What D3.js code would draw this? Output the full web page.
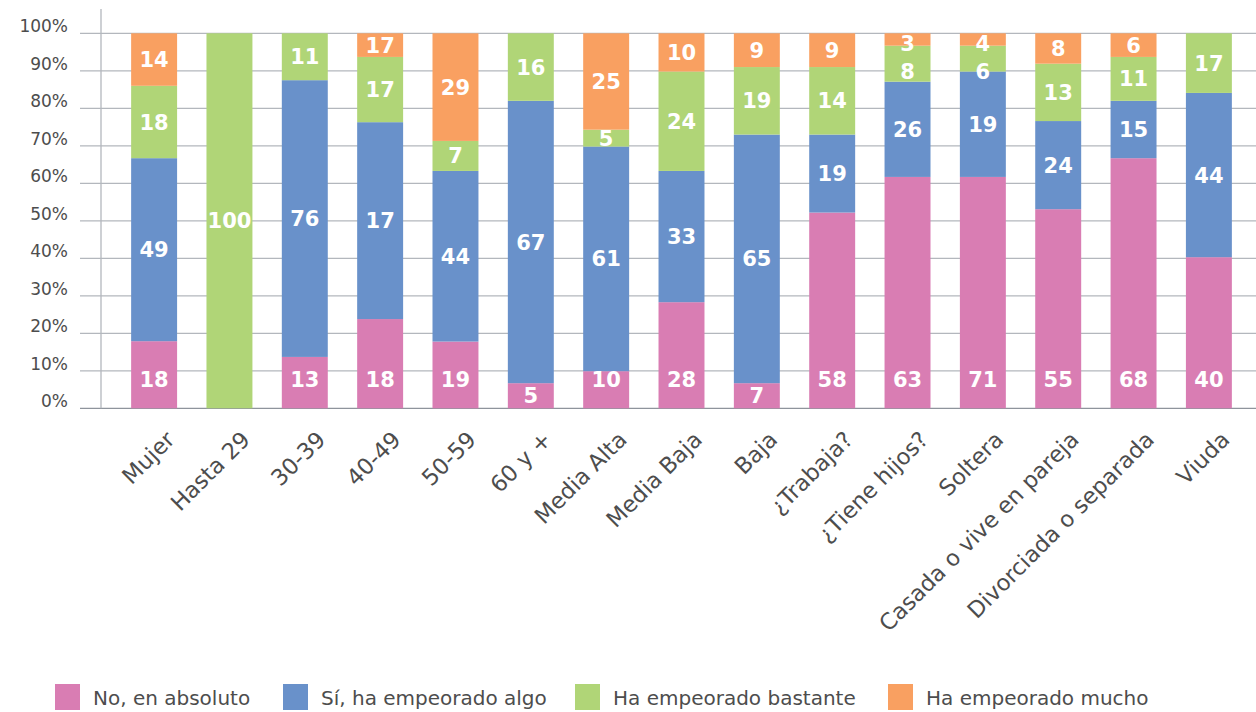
<!DOCTYPE html>
<html>
<head>
<meta charset="utf-8">
<script src="https://cdn.jsdelivr.net/npm/d3@7"></script>
<style>
  body { margin: 0; background: #fff; }
  svg { display: block; }
</style>
</head>
<body>
<svg id="chart" width="1256" height="712"></svg>
<script>
const categories = ["Mujer", "Hasta 29", "30-39", "40-49", "50-59", "60 y +", "Media Alta", "Media Baja", "Baja",
  "¿Trabaja?", "¿Tiene hijos?", "Soltera", "Casada o vive en pareja", "Divorciada o separada", "Viuda"];

const seriesNames = ["No, en absoluto", "Sí, ha empeorado algo", "Ha empeorado bastante", "Ha empeorado mucho"];
const seriesColors = ["#d97db3", "#6991ca", "#b0d577", "#f9a061"];

// bar heights (% of bar) as drawn
const noAbsoluto = [17.9, 0, 13.7, 23.8, 17.8, 6.7, 9.9, 28.3, 6.7, 52.2, 61.7, 61.7, 53.1, 66.7, 40.3];
const empeoradoAlgo = [48.8, 0, 73.8, 52.5, 45.5, 75.3, 59.9, 35.0, 66.3, 20.8, 25.4, 28.1, 23.5, 15.3, 43.8];
const empeoradoBastante = [19.3, 100, 12.5, 17.4, 8.0, 18.0, 4.5, 26.5, 18.0, 18.0, 9.6, 6.9, 15.3, 11.7, 15.9];
const empeoradoMucho = [14.0, 0, 0, 6.3, 28.7, 0, 25.7, 10.2, 9.0, 9.0, 3.3, 3.3, 8.1, 6.3, 0];

// printed value labels
const noAbsolutoLabels = [18, null, 13, 18, 19, 5, 10, 28, 7, 58, 63, 71, 55, 68, 40];
const empeoradoAlgoLabels = [49, null, 76, 17, 44, 67, 61, 33, 65, 19, 26, 19, 24, 15, 44];
const empeoradoBastanteLabels = [18, 100, 11, 17, 7, 16, 5, 24, 19, 14, 8, 6, 13, 11, 17];
const empeoradoMuchoLabels = [14, null, null, 17, 29, null, 25, 10, 9, 9, 3, 4, 8, 6, null];

const yTicks = [0, 10, 20, 30, 40, 50, 60, 70, 80, 90, 100];

const values = [noAbsoluto, empeoradoAlgo, empeoradoBastante, empeoradoMucho];
const labels = [noAbsolutoLabels, empeoradoAlgoLabels, empeoradoBastanteLabels, empeoradoMuchoLabels];

const rows = categories.map((c, i) => {
  let row = { cat: c };
  seriesNames.forEach((s, k) => { row[s] = values[k][i]; });
  return row;
});

const svg = d3.select("#chart");
const textColor = "#4d4d4d";

let xScale = d3.scaleBand()
  .domain(categories)
  .range([101, 1262])
  .paddingInner(0.39)
  .paddingOuter(0.4);

let yScale = d3.scaleLinear().domain([0, 100]).range([408.3, 33.3]);

// grid
svg.append("g")
  .selectAll("line")
  .data(yTicks)
  .join("line")
  .attr("x1", 80)
  .attr("x2", 1256)
  .attr("y1", (d) => yScale(d))
  .attr("y2", (d) => yScale(d))
  .attr("stroke", (d) => (d === 0 ? "#8e949c" : "#b3b7bd"))
  .attr("stroke-width", 1.3);

svg.append("line")
  .attr("x1", 101).attr("x2", 101)
  .attr("y1", 9).attr("y2", yScale(0))
  .attr("stroke", "#b3b7bd")
  .attr("stroke-width", 1.3);

svg.append("g")
  .selectAll("text")
  .data(yTicks)
  .join("text")
  .attr("x", 68)
  .attr("y", (d) => yScale(d) - 7)
  .attr("dy", "0.36em")
  .attr("text-anchor", "end")
  .attr("font-family", "DejaVu Sans")
  .attr("font-size", 17)
  .attr("fill", textColor)
  .text((d) => d + "%");

// stacked bars
const stack = d3.stack().keys(seriesNames);
const layers = stack(rows);

const barGroups = svg.append("g")
  .selectAll("g")
  .data(layers)
  .join("g")
  .attr("fill", (d, k) => seriesColors[k]);

barGroups.selectAll("rect")
  .data((d) => d)
  .join("rect")
  .attr("x", (d) => xScale(d.data.cat))
  .attr("width", xScale.bandwidth())
  .attr("y", (d) => yScale(d[1]))
  .attr("height", (d) => yScale(d[0]) - yScale(d[1]));

// value labels, one column per bar, top to bottom with a minimum gap
const labelData = [];
categories.forEach((cat, i) => {
  let col = [];
  layers.forEach((layer, k) => {
    let v = labels[k][i];
    if (v === null) return;
    let d = layer[i];
    let top = yScale(d[1]);
    let bottom = yScale(d[0]);
    let y = (top + bottom) / 2;
    if (k === 0 && bottom - top > 30) y = bottom - 29;
    if (bottom - top < 16) y = Math.max(y, top + 10);
    col.push({ x: xScale(cat) + xScale.bandwidth() / 2, y: y, text: v });
  });
  col.sort((a, b) => a.y - b.y);
  for (let j = 1; j < col.length; j++) {
    if (col[j].y - col[j - 1].y < 28) col[j].y = col[j - 1].y + 28;
  }
  col.forEach((c) => labelData.push(c));
});

svg.append("g")
  .selectAll("text")
  .data(labelData)
  .join("text")
  .attr("x", (d) => d.x)
  .attr("y", (d) => d.y)
  .attr("dy", "0.36em")
  .attr("text-anchor", "middle")
  .attr("font-family", "DejaVu Sans")
  .attr("font-weight", "bold")
  .attr("font-size", 21)
  .attr("fill", "#fff")
  .text((d) => d.text);

// category labels
svg.append("g")
  .selectAll("text")
  .data(categories)
  .join("text")
  .attr("transform", (d) =>
    "translate(" + (xScale(d) + xScale.bandwidth() / 2 + 22) + ",441) rotate(-45)")
  .attr("text-anchor", "end")
  .attr("font-family", "DejaVu Sans")
  .attr("font-size", 22.5)
  .attr("fill", textColor)
  .text((d) => d);

// legend
const legendX = [55, 283, 575, 888];
const legend = svg.append("g")
  .selectAll("g")
  .data(seriesNames)
  .join("g")
  .attr("transform", (d, k) => "translate(" + legendX[k] + ",684)");

legend.append("rect")
  .attr("width", 25)
  .attr("height", 26)
  .attr("fill", (d, k) => seriesColors[k]);

legend.append("text")
  .attr("x", 38)
  .attr("y", 21)
  .attr("font-family", "DejaVu Sans")
  .attr("font-size", 20)
  .attr("fill", textColor)
  .text((d) => d);
</script>
</body>
</html>
